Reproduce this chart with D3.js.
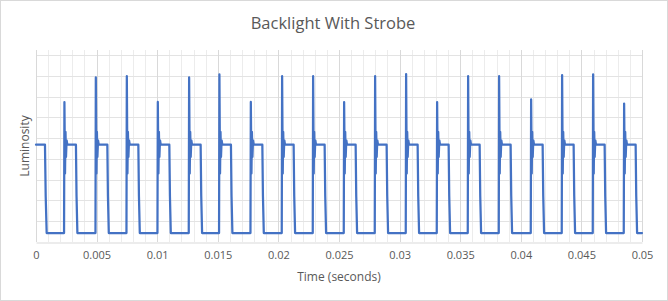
<!DOCTYPE html>
<html>
<head>
<meta charset="utf-8">
<script src="https://cdn.jsdelivr.net/npm/d3@7/dist/d3.min.js"></script>
<style>
  html, body { margin: 0; padding: 0; background: #ffffff; }
  svg { display: block; }
  text { font-family: "Open Sans", "DejaVu Sans", sans-serif; fill: #595959; }
</style>
</head>
<body>
<svg id="chart" width="668" height="301"></svg>
<script>
// ---- Data ----
const chartTitle = "Backlight With Strobe";
const xAxisTitle = "Time (seconds)";
const yAxisTitle = "Luminosity";

const xTickValues = [0, 0.005, 0.01, 0.015, 0.02, 0.025, 0.03, 0.035, 0.04, 0.045, 0.05];
const xTickLabels = ["0", "0.005", "0.01", "0.015", "0.02", "0.025", "0.03", "0.035", "0.04", "0.045", "0.05"];
const xMinorStep = 0.001;
const yGridValues = [10, 20, 30, 40, 50, 60, 70, 80, 90];

// strobe pulse start times (s) and the peak of the spike at each start
const spikeTimes = [0.002335, 0.004926, 0.007484, 0.010041, 0.012624, 0.015124, 0.017715,
                    0.020297, 0.022855, 0.025413, 0.027970, 0.030528, 0.033086, 0.035644,
                    0.038201, 0.040842, 0.043399, 0.045957, 0.048515];
const spikePeaks = [67.4, 79.3, 79.9, 67.5, 79.3, 80.7, 67.5,
                    79.9, 79.9, 67.4, 79.9, 80.9, 67.4, 79.9,
                    79.9, 68.7, 80.4, 80.8, 66.7];

// shape of one pulse: time offset from start, luminosity (null = spike peak)
const pulseOffsets = [-0.00002, 0.00001, 0.00006, 0.00010, 0.00014, 0.00019, 0.00025, 0.00096, 0.00101, 0.00108];
const pulseLevels  = [4.3, null, 33, 53, 41, 49, 46.9, 46.9, 22, 4.3];

// leading partial pulse and trailing low level
const leadTimes = [0, 0.00074, 0.00080, 0.00088];
const leadLevels = [46.9, 46.9, 22, 4.3];
const tailTimes = [0.05];
const tailLevels = [4.3];

// ---- Build the trace ----
const trace = [];
leadTimes.forEach((t, i) => trace.push([t, leadLevels[i]]));
spikeTimes.forEach((ts, k) => {
  pulseOffsets.forEach((dt, j) => {
    trace.push([ts + dt, pulseLevels[j] === null ? spikePeaks[k] : pulseLevels[j]]);
  });
});
tailTimes.forEach((t, i) => trace.push([t, tailLevels[i]]));

// ---- Drawing ----
const svg = d3.select("#chart");
const W = 668, H = 301;
const plot = { left: 36, right: 642, top: 50, bottom: 242 };

svg.append("rect")
  .attr("x", 0.5).attr("y", 0.5)
  .attr("width", W - 1).attr("height", H - 1)
  .attr("fill", "#ffffff").attr("stroke", "#d9d9d9");

const x = d3.scaleLinear().domain([0, 0.05]).range([plot.left, plot.right]);
const y = d3.scaleLinear().domain([0, 92.5]).range([plot.bottom, plot.top]);

// minor vertical gridlines
const minorTicks = d3.range(0, 50 + 1).map(i => i * xMinorStep).filter(v => v <= 0.05 + 1e-9);
svg.append("g").selectAll("line")
  .data(minorTicks.filter(v => !xTickValues.some(t => Math.abs(t - v) < 1e-9)))
  .join("line")
  .attr("x1", d => Math.round(x(d)) + 0.5).attr("x2", d => Math.round(x(d)) + 0.5)
  .attr("y1", plot.top).attr("y2", plot.bottom)
  .attr("stroke", "#ececec").attr("stroke-width", 1);

// horizontal gridlines
svg.append("g").selectAll("line")
  .data(yGridValues)
  .join("line")
  .attr("x1", plot.left).attr("x2", plot.right)
  .attr("y1", d => Math.round(y(d)) + 0.5).attr("y2", d => Math.round(y(d)) + 0.5)
  .attr("stroke", "#e3e3e3").attr("stroke-width", 1);

// major vertical gridlines
svg.append("g").selectAll("line")
  .data(xTickValues)
  .join("line")
  .attr("x1", d => Math.round(x(d)) + 0.5).attr("x2", d => Math.round(x(d)) + 0.5)
  .attr("y1", plot.top).attr("y2", plot.bottom)
  .attr("stroke", "#d9d9d9").attr("stroke-width", 1);

// x axis (line + labels) via d3.axisBottom
const xAxis = d3.axisBottom(x)
  .tickValues(xTickValues)
  .tickFormat((d, i) => xTickLabels[i])
  .tickSize(0)
  .tickPadding(9);
const gx = svg.append("g")
  .attr("transform", `translate(0,${plot.bottom + 0.5})`)
  .call(xAxis);
gx.select(".domain").attr("stroke", "#d9d9d9").attr("stroke-width", 1);
gx.selectAll("text")
  .style("font-family", '"Open Sans", sans-serif')
  .style("font-size", "11px")
  .attr("fill", "#595959");

// the trace
const line = d3.line().x(d => x(d[0])).y(d => y(d[1]));
svg.append("path")
  .datum(trace)
  .attr("d", line)
  .attr("fill", "none")
  .attr("stroke", "#4472C4")
  .attr("stroke-width", 2.25)
  .attr("stroke-linejoin", "round")
  .attr("stroke-linecap", "round");

// titles
svg.append("text")
  .attr("x", 333).attr("y", 29)
  .attr("text-anchor", "middle")
  .style("font-size", "16.5px")
  .text(chartTitle);

svg.append("text")
  .attr("x", (plot.left + plot.right) / 2).attr("y", 281)
  .attr("text-anchor", "middle")
  .style("font-size", "12px")
  .text(xAxisTitle);

svg.append("text")
  .attr("transform", `translate(29,${(plot.top + plot.bottom) / 2}) rotate(-90)`)
  .attr("text-anchor", "middle")
  .style("font-size", "12px")
  .text(yAxisTitle);
</script>
</body>
</html>
